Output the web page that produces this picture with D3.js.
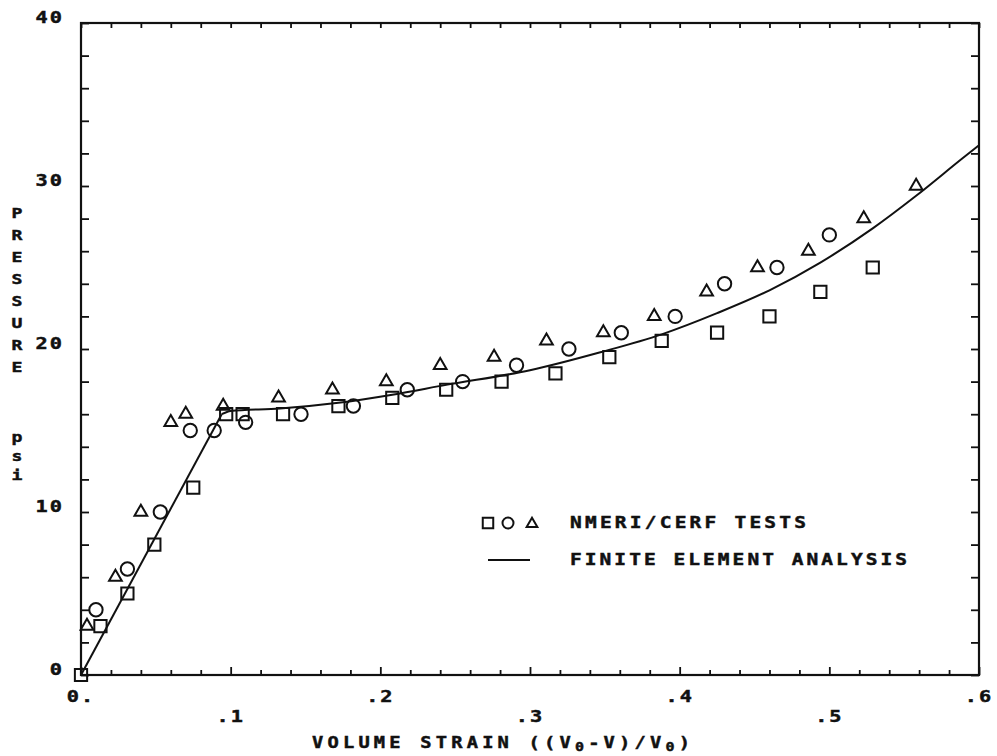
<!DOCTYPE html>
<html>
<head>
<meta charset="utf-8">
<script src="https://cdn.jsdelivr.net/npm/d3@7"></script>
<style>
  html, body { margin: 0; padding: 0; background: #fff; }
  svg { display: block; }
  text { font-family: "DejaVu Sans Mono", monospace; font-weight: bold; fill: #111; stroke: #111; stroke-width: 0.45; }
</style>
</head>
<body>
<svg id="chart" width="997" height="756"></svg>
<script>
// ---- data ----
const squareX = [0.000, 0.013, 0.031, 0.049, 0.075, 0.097, 0.108, 0.135, 0.172, 0.208, 0.244, 0.281, 0.317, 0.353, 0.388, 0.425, 0.460, 0.494, 0.529];
const squareY = [0.0,   3.0,   5.0,   8.0,   11.5,  16.0,  16.0,  16.0,  16.5,  17.0,  17.5,  18.0,  18.5,  19.5,  20.5,  21.0,  22.0,  23.5,  25.0];
const circleX = [0.010, 0.031, 0.053, 0.073, 0.089, 0.110, 0.147, 0.182, 0.218, 0.255, 0.291, 0.326, 0.361, 0.397, 0.430, 0.465, 0.500];
const circleY = [4.0,   6.5,   10.0,  15.0,  15.0,  15.5,  16.0,  16.5,  17.5,  18.0,  19.0,  20.0,  21.0,  22.0,  24.0,  25.0,  27.0];
const triX = [0.004, 0.023, 0.040, 0.060, 0.070, 0.095, 0.132, 0.168, 0.204, 0.240, 0.276, 0.311, 0.349, 0.383, 0.418, 0.452, 0.486, 0.523, 0.558];
const triY = [3.0,   6.0,   10.0,  15.5,  16.0,  16.5,  17.0,  17.5,  18.0,  19.0,  19.5,  20.5,  21.0,  22.0,  23.5,  25.0,  26.0,  28.0,  30.0];
const feX = [0.000, 0.094, 0.100, 0.133, 0.172, 0.208, 0.244, 0.300, 0.347, 0.388, 0.425, 0.460, 0.494, 0.529, 0.558, 0.589, 0.600];
const feY = [0.0,   16.0,  16.2,  16.35, 16.7,  17.2,  17.8,  18.7,  19.8,  20.9,  22.2,  23.6,  25.3,  27.4,  29.4,  31.7,  32.5];
const xTickLabels = ["0.", ".1", ".2", ".3", ".4", ".5", ".6"];
const xTickValues = [0, 0.1, 0.2, 0.3, 0.4, 0.5, 0.6];
const yTickLabels = ["0", "10", "20", "30", "40"];
const yTickValues = [0, 10, 20, 30, 40];
const legendLabels = ["NMERI/CERF TESTS", "FINITE ELEMENT ANALYSIS"];
const yTitle = "PRESSURE";
const yUnit = "psi";

// ---- drawing ----
const svg = d3.select("#chart");
const x = d3.scaleLinear().domain([0, 0.6]).range([81, 979]);
const y = d3.scaleLinear().domain([0, 40]).range([675, 23]);
const ink = "#111";
const SX = 1.25; // plotter lettering is wider than the font

// text helper: positioned group with horizontal stretch
function label(parent, px, py, anchor, size, sx = SX) {
  return parent.append("g")
    .attr("transform", `translate(${px},${py}) scale(${sx},1)`)
    .append("text").attr("text-anchor", anchor).attr("font-size", size);
}

// axes with inward ticks
const minorX = d3.range(0, 0.6001, 0.02).filter(v => Math.abs(v * 10 - Math.round(v * 10)) > 1e-6);
const yTicks = d3.range(0, 40.001, 2);

function styleAxis(g) {
  g.select(".domain").remove();
  g.selectAll(".tick text").remove();
  g.selectAll(".tick line").attr("stroke", ink).attr("stroke-width", 1.8);
}
svg.append("g").attr("transform", `translate(0,${y(0)})`)
  .call(d3.axisBottom(x).tickValues(minorX).tickSize(-5)).call(styleAxis);
svg.append("g").attr("transform", `translate(0,${y(0)})`)
  .call(d3.axisBottom(x).tickValues(xTickValues).tickSize(-8)).call(styleAxis);
svg.append("g").attr("transform", `translate(0,${y(40)})`)
  .call(d3.axisTop(x).tickValues(d3.range(0, 0.6001, 0.02)).tickSize(-5)).call(styleAxis);
svg.append("g").attr("transform", `translate(${x(0)},0)`)
  .call(d3.axisLeft(y).tickValues(yTicks).tickSize(-8)).call(styleAxis);
svg.append("g").attr("transform", `translate(${x(0.6)},0)`)
  .call(d3.axisRight(y).tickValues(yTicks).tickSize(-8)).call(styleAxis);

// frame
svg.append("rect")
  .attr("x", x(0)).attr("y", y(40))
  .attr("width", x(0.6) - x(0)).attr("height", y(0) - y(40))
  .attr("fill", "none").attr("stroke", ink).attr("stroke-width", 2.2);

// tick labels
xTickValues.forEach((d, i) => {
  label(svg, x(d), i % 2 === 0 ? 702 : 722, "middle", 15, 1.35)
    .attr("letter-spacing", 1.5).text(xTickLabels[i]);
});
yTickValues.forEach((d, i) => {
  label(svg, 64, y(d), "end", 15, 1.35)
    .attr("letter-spacing", 1.5).text(yTickLabels[i]);
});

// x axis title
const xt = label(svg, 312, 748, "start", 15)
  .attr("textLength", 378 / SX).attr("lengthAdjust", "spacing");
xt.append("tspan").text("VOLUME STRAIN  ((V");
xt.append("tspan").attr("font-size", 12).attr("dy", 3).text("0");
xt.append("tspan").attr("dy", -3).text("-V)/V");
xt.append("tspan").attr("font-size", 12).attr("dy", 3).text("0");
xt.append("tspan").attr("dy", -3).text(")");

// y axis title (stacked letters)
yTitle.split("").forEach((ch, i) => {
  label(svg, 17, 218 + i * 22, "middle", 14.5).text(ch);
});
yUnit.split("").forEach((ch, i) => {
  label(svg, 17, 442 + i * 19, "middle", 14.5).text(ch);
});

// FE curve: straight loading branch, then smooth plateau/hardening branch
const feData = feX.map((v, i) => [v, feY[i]]);
const lineLin = d3.line().x(d => x(d[0])).y(d => y(d[1]));
const lineSmooth = d3.line().x(d => x(d[0])).y(d => y(d[1])).curve(d3.curveMonotoneX);
svg.append("path").datum(feData.slice(0, 2)).attr("d", lineLin)
  .attr("fill", "none").attr("stroke", ink).attr("stroke-width", 2);
svg.append("path").datum(feData.slice(1)).attr("d", lineSmooth)
  .attr("fill", "none").attr("stroke", ink).attr("stroke-width", 2);

// markers
const symSquare = d3.symbol().type(d3.symbolSquare).size(150);
const symCircle = d3.symbol().type(d3.symbolCircle).size(140);
const symTri = d3.symbol().type(d3.symbolTriangle).size(70);
function drawMarkers(xs, ys, sym) {
  svg.append("g").selectAll("path").data(xs.map((v, i) => [v, ys[i]])).join("path")
    .attr("transform", d => `translate(${x(d[0])},${y(d[1])})`)
    .attr("d", sym())
    .attr("fill", "none").attr("stroke", ink).attr("stroke-width", 2);
}
drawMarkers(squareX, squareY, symSquare);
drawMarkers(circleX, circleY, symCircle);
drawMarkers(triX, triY, symTri);

// legend
const lg = svg.append("g");
lg.append("path").attr("transform", "translate(488,523)").attr("d", d3.symbol().type(d3.symbolSquare).size(110)())
  .attr("fill", "none").attr("stroke", ink).attr("stroke-width", 2);
lg.append("path").attr("transform", "translate(508,523)").attr("d", d3.symbol().type(d3.symbolCircle).size(95)())
  .attr("fill", "none").attr("stroke", ink).attr("stroke-width", 2);
lg.append("path").attr("transform", "translate(532,524)").attr("d", d3.symbol().type(d3.symbolTriangle).size(50)())
  .attr("fill", "none").attr("stroke", ink).attr("stroke-width", 2);
lg.append("line").attr("x1", 488).attr("x2", 530).attr("y1", 560).attr("y2", 560)
  .attr("stroke", ink).attr("stroke-width", 2);
label(lg, 570, 528, "start", 15, 1.3)
  .attr("textLength", 236 / 1.3).attr("lengthAdjust", "spacing").text(legendLabels[0]);
label(lg, 570, 565, "start", 15, 1.3)
  .attr("textLength", 337 / 1.3).attr("lengthAdjust", "spacing").text(legendLabels[1]);
</script>
</body>
</html>
